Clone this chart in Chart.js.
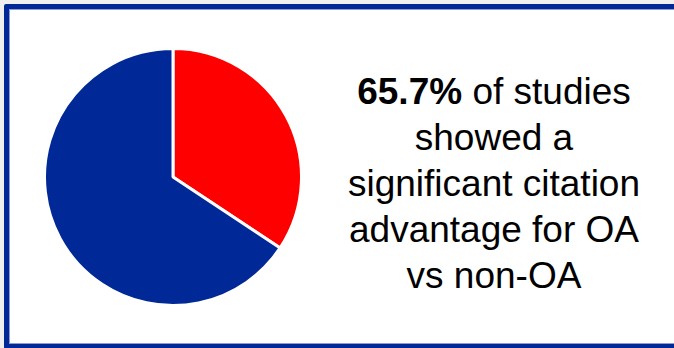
<!DOCTYPE html>
<html>
<head>
<meta charset="utf-8">
<script src="https://cdn.jsdelivr.net/npm/chart.js@4"></script>
<style>
  html, body { margin: 0; padding: 0; background: #f0f0f0; }
  body { width: 674px; height: 348px; overflow: hidden; position: relative; }
  #frame {
    position: absolute; left: 4px; top: 4px;
    width: 690px; height: 345px; box-sizing: border-box;
    border: 5px solid #002896; border-radius: 2px;
    background: #fff;
    box-shadow: inset 0 0 0 1px #8a9bd6;
  }
  #pieWrap { position: absolute; left: 43px; top: 47px; width: 260px; height: 260px; }
  #caption {
    position: absolute; left: 324px; top: 69px; width: 340px;
    font-family: "Liberation Sans", Arial, sans-serif;
    font-size: 37px; line-height: 46px; color: #000; text-align: center;
  }
  #caption b { font-weight: bold; }
</style>
</head>
<body>
<div id="frame"></div>
<div id="pieWrap"><canvas id="pieChart" width="260" height="260"></canvas></div>
<div id="caption"><b>65.7%</b> of studies<br>showed a<br>significant citation<br>advantage for OA<br>vs non-OA</div>
<script>
const labels = ["No significant advantage", "Significant OA advantage"];
const shares = [34.3, 65.7];
const colors = ["#ff0000", "#002896"];

const ctx = document.getElementById("pieChart").getContext("2d");
new Chart(ctx, {
  type: "pie",
  data: {
    labels,
    datasets: [{
      data: shares,
      backgroundColor: colors,
      borderColor: "#ffffff",
      borderWidth: 3
    }]
  },
  options: {
    responsive: false,
    animation: false,
    layout: { padding: 0 },
    plugins: {
      legend: { display: false },
      tooltip: { enabled: false }
    }
  }
});
</script>
</body>
</html>
